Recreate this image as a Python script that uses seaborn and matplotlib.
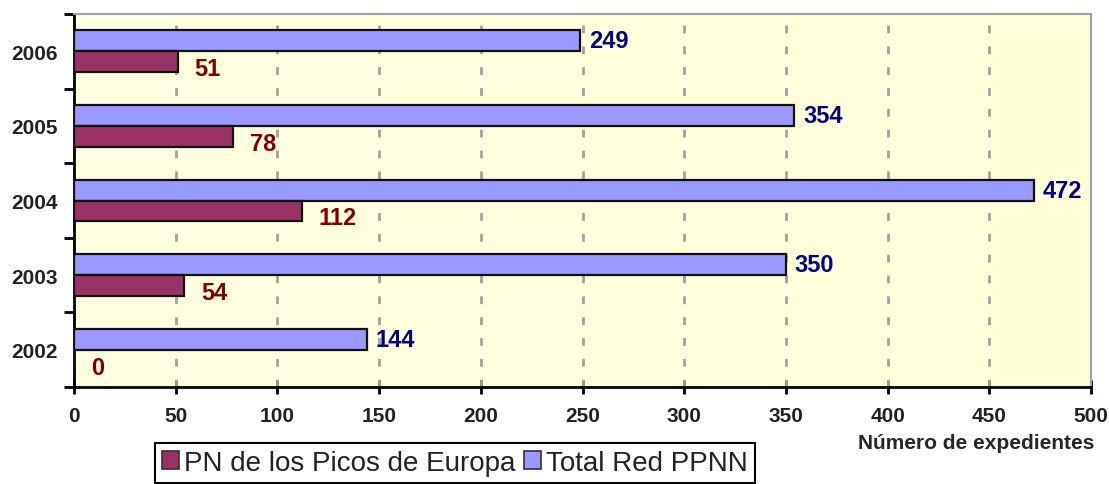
import numpy as np
import pandas as pd
import matplotlib
matplotlib.use('Agg')
import matplotlib.pyplot as plt
from matplotlib.colors import LinearSegmentedColormap
from matplotlib.patches import Patch
import seaborn as sns

years = ['2006', '2005', '2004', '2003', '2002']
total_red = [249, 354, 472, 350, 144]
picos = [51, 78, 112, 54, 0]
serie_total = 'Total Red PPNN'
serie_picos = 'PN de los Picos de Europa'
xticks = [0, 50, 100, 150, 200, 250, 300, 350, 400, 450, 500]

C_TOTAL = '#9999FF'
C_PICOS = '#993366'
TXT = '#222222'

sns.set_style('ticks')
plt.rcParams['font.family'] = ['Liberation Sans', 'DejaVu Sans']
plt.rcParams['text.color'] = TXT
plt.rcParams['xtick.labelcolor'] = TXT
plt.rcParams['ytick.labelcolor'] = TXT

df = pd.DataFrame({
    'year': years * 2,
    'value': total_red + picos,
    'serie': [serie_total] * len(years) + [serie_picos] * len(years),
})

fig = plt.figure(figsize=(11.09, 4.85), dpi=100)
ax = fig.add_axes([74 / 1109, 1 - 388 / 485, (1091 - 74) / 1109, (388 - 15) / 485])

# light yellow background, slightly paler on the left
cmap = LinearSegmentedColormap.from_list('bg', ['#FFFFE2', '#FFFFD8'])
ax.imshow(np.linspace(0, 1, 256).reshape(1, -1), cmap=cmap, aspect='auto',
          extent=[0, 1, 0, 1], transform=ax.transAxes, zorder=0)

sns.barplot(data=df, y='year', x='value', hue='serie', order=years,
            hue_order=[serie_total, serie_picos],
            palette={serie_total: C_TOTAL, serie_picos: C_PICOS}, saturation=1,
            width=0.56, edgecolor='#111111', linewidth=1.6, orient='h',
            legend=False, ax=ax, zorder=3)

for i, (t, p) in enumerate(zip(total_red, picos)):
    ax.annotate(str(t), (t, i - 0.14), xytext=(9, 0), textcoords='offset pixels',
                ha='left', va='center', color='#000080', fontsize=17, fontweight='bold')
    ax.annotate(str(p), (p, i + 0.14), xytext=(17, -7), textcoords='offset pixels',
                ha='left', va='center', color='#800000', fontsize=17, fontweight='bold')

ax.set_xlim(0, 500)
ax.set_ylim(4.5, -0.5)
ax.set_xticks(xticks)
ax.set_xticklabels([str(v) for v in xticks], fontsize=15, fontweight='bold')
ax.set_yticks(range(len(years)))
ax.set_yticklabels(years, fontsize=15, fontweight='bold')
ax.set_yticks(np.arange(-0.5, len(years), 1), minor=True)
ax.tick_params(axis='y', which='major', length=0, pad=12)
ax.tick_params(axis='y', which='minor', length=7, width=2, direction='out', color='black')
ax.tick_params(axis='x', length=10, width=2, direction='inout', color='black', pad=9)

ax.set_axisbelow(True)
for v in xticks[1:-1]:
    ax.axvline(v, color='#A0A0A0', lw=2, ls=(0, (2.8, 4.7)), zorder=1)

ax.set_ylabel('')
ax.set_xlabel('Número de expedientes', fontsize=15, fontweight='bold', ha='right', va='center')
ax.xaxis.set_label_coords(1.003, -0.15)

for side in ['left', 'bottom']:
    ax.spines[side].set_color('black')
    ax.spines[side].set_linewidth(2)
for side in ['top', 'right']:
    ax.spines[side].set_color('#A0A0A0')
    ax.spines[side].set_linewidth(1.5)

handles = [Patch(facecolor=C_PICOS, edgecolor='#333333', linewidth=1.2),
           Patch(facecolor=C_TOTAL, edgecolor='#333333', linewidth=1.2)]
leg = fig.legend(handles, [serie_picos, serie_total], ncol=2,
                 loc='upper left', bbox_to_anchor=(155 / 1109, 1 - 444 / 485),
                 fontsize=20, frameon=True, fancybox=False, framealpha=1,
                 edgecolor='black', handlelength=0.6, handleheight=0.6,
                 handletextpad=0.2, columnspacing=0.3, borderpad=0.25,
                 borderaxespad=0)
leg.get_frame().set_linewidth(1.5)

fig.savefig('out.png', dpi=100)
